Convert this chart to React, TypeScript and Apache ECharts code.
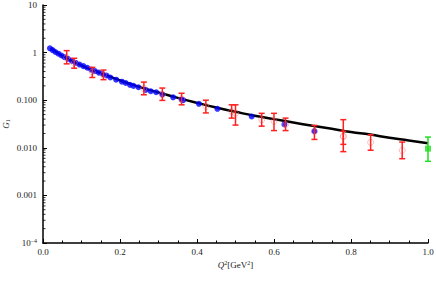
import React, { useEffect, useRef } from "react";
import * as echarts from "echarts";

const curveX = [0.02, 0.04, 0.06, 0.08, 0.1, 0.12, 0.15, 0.2, 0.25, 0.3, 0.35, 0.4, 0.45, 0.5, 0.55, 0.6, 0.65, 0.7, 0.75, 0.8, 0.85, 0.9, 0.95, 1.0];
const curveY = [1.25, 0.96, 0.77, 0.64, 0.54, 0.46, 0.37, 0.26, 0.19, 0.145, 0.112, 0.088, 0.07, 0.057, 0.047, 0.04, 0.034, 0.029, 0.025, 0.0215, 0.019, 0.0162, 0.0143, 0.0125];

const blueX = [0.018, 0.025, 0.032, 0.04, 0.048, 0.056, 0.065, 0.075, 0.085, 0.095, 0.105, 0.115, 0.125, 0.135, 0.145, 0.155, 0.165, 0.175, 0.19, 0.205, 0.215, 0.226, 0.235, 0.248, 0.267, 0.28, 0.294, 0.31, 0.338, 0.36, 0.364, 0.405, 0.453, 0.542, 0.627, 0.705];
const blueY = [1.23, 1.13, 1.03, 0.95, 0.87, 0.8, 0.74, 0.67, 0.61, 0.56, 0.52, 0.48, 0.44, 0.41, 0.38, 0.355, 0.33, 0.3, 0.27, 0.245, 0.23, 0.21, 0.2, 0.187, 0.165, 0.154, 0.147, 0.132, 0.115, 0.103, 0.1, 0.084, 0.066, 0.0455, 0.031, 0.0224];

const redX = [0.0615, 0.081, 0.128, 0.157, 0.262, 0.31, 0.36, 0.423, 0.49, 0.5, 0.568, 0.6, 0.63, 0.705, 0.78, 0.78, 0.851, 0.933];
const redY = [0.785, 0.6, 0.39, 0.34, 0.176, 0.13, 0.106, 0.074, 0.058, 0.053, 0.039, 0.036, 0.031, 0.022, 0.0173, 0.0175, 0.013, 0.0088];
const redLow = [0.58, 0.47, 0.3, 0.27, 0.13, 0.099, 0.08, 0.054, 0.042, 0.03, 0.0285, 0.023, 0.023, 0.015, 0.0083, 0.0118, 0.0089, 0.0059];
const redHigh = [1.1, 0.76, 0.49, 0.43, 0.24, 0.18, 0.14, 0.1, 0.08, 0.08, 0.053, 0.053, 0.042, 0.0295, 0.039, 0.0224, 0.0188, 0.0132];

const greenX = [1.0];
const greenY = [0.0096];
const greenLow = [0.0052];
const greenHigh = [0.0168];

const yMinorTicks = [-4, -3, -2, -1, 0].flatMap((e) => [2, 3, 4, 5, 6, 7, 8, 9].map((m) => m * Math.pow(10, e)));

const FONT = "Liberation Serif";

function errorBarRender(color: string) {
  return (params: any, api: any) => {
    const x = api.value(0);
    const lo = api.value(1);
    const hi = api.value(2);
    const p1 = api.coord([x, lo]);
    const p2 = api.coord([x, hi]);
    const w = 3;
    const style = { stroke: color, lineWidth: 1.5 };
    return {
      type: "group",
      children: [
        { type: "line", shape: { x1: p1[0], y1: p1[1], x2: p2[0], y2: p2[1] }, style },
        { type: "line", shape: { x1: p1[0] - w, y1: p1[1], x2: p1[0] + w, y2: p1[1] }, style },
        { type: "line", shape: { x1: p2[0] - w, y1: p2[1], x2: p2[0] + w, y2: p2[1] }, style },
      ],
    };
  };
}

export default function App() {
  const ref = useRef<HTMLDivElement>(null);
  useEffect(() => {
    if (!ref.current) return;
    const chart = echarts.init(ref.current, null, { renderer: "svg" });
    const yLabel = (v: number) => {
      const e = Math.round(Math.log10(v));
      if (e === 1) return "10";
      if (e === 0) return "1";
      if (e === -1) return "0.100";
      if (e === -2) return "0.010";
      if (e === -3) return "0.001";
      if (e === -4) return "10{s|−4}";
      return "";
    };
    chart.setOption({
      animation: false,
      grid: { left: 43, right: 8, top: 5, bottom: 39, containLabel: false, outerBoundsMode: "none" },
      xAxis: {
        type: "value",
        min: 0,
        max: 1,
        interval: 0.2,
        name: "{i|Q}{s|2}[GeV{s|2}]",
        nameLocation: "middle",
        nameGap: 17,
        nameMoveOverlap: false,
        nameTextStyle: {
          fontFamily: FONT,
          fontSize: 9,
          color: "#222",
          rich: {
            i: { fontFamily: FONT, fontSize: 9, fontStyle: "italic", color: "#222" },
            s: { fontFamily: FONT, fontSize: 6, verticalAlign: "bottom", color: "#222", padding: [0, 0, 4, 0] },
          },
        },
        axisLine: { lineStyle: { color: "#000", width: 1.5 } },
        axisTick: { inside: true, length: 4, lineStyle: { color: "#000", width: 1 } },
        minorTick: { show: true, splitNumber: 4, length: 2.5, lineStyle: { color: "#000", width: 1 } },
        splitLine: { show: false },
        axisLabel: {
          fontFamily: FONT,
          fontSize: 9,
          color: "#222",
          margin: 4,
          formatter: (v: number) => v.toFixed(1),
        },
      },
      yAxis: {
        type: "log",
        logBase: 10,
        min: 0.0001,
        max: 10,
        splitNumber: 5,
        name: "{i|G}{s|1}",
        nameLocation: "middle",
        nameRotate: 90,
        nameGap: 32,
        nameMoveOverlap: false,
        nameTextStyle: {
          fontFamily: FONT,
          fontSize: 9,
          color: "#222",
          rich: {
            i: { fontFamily: FONT, fontSize: 9, fontStyle: "italic", color: "#222" },
            s: { fontFamily: FONT, fontSize: 6, color: "#222", verticalAlign: "top", padding: [4, 0, 0, 0] },
          },
        },
        axisLine: { lineStyle: { color: "#000", width: 1.5 } },
        axisTick: { inside: true, length: 4, lineStyle: { color: "#000", width: 1 } },
        splitLine: { show: false },
        axisLabel: {
          fontFamily: FONT,
          fontSize: 9,
          color: "#222",
          margin: 6,
          formatter: yLabel,
          rich: {
            s: { fontFamily: FONT, fontSize: 6, color: "#222", verticalAlign: "bottom", padding: [0, 0, 4, 0] },
          },
        },
      },
      series: [
        {
          type: "custom",
          name: "minorY",
          silent: true,
          data: yMinorTicks.map((v) => [0, v]),
          renderItem: (params: any, api: any) => {
            const p = api.coord([0, api.value(1)]);
            return {
              type: "line",
              shape: { x1: p[0], y1: p[1], x2: p[0] + 2.5, y2: p[1] },
              style: { stroke: "#000", lineWidth: 0.8 },
            };
          },
          z: 1,
        },
        {
          type: "line",
          data: curveX.map((x, i) => [x, curveY[i]]),
          smooth: true,
          showSymbol: false,
          lineStyle: { color: "#000", width: 2.5 },
          z: 2,
        },
        {
          type: "scatter",
          data: blueX.map((x, i) => [x, blueY[i]]),
          symbol: "circle",
          symbolSize: 6,
          itemStyle: { color: "#0000ff" },
          z: 3,
        },
        {
          type: "scatter",
          data: redX.map((x, i) => [x, redY[i]]),
          symbol: "circle",
          symbolSize: 6,
          itemStyle: { color: "transparent", borderColor: "rgba(255,120,120,0.6)", borderWidth: 1 },
          z: 4,
        },
        {
          type: "custom",
          data: redX.map((x, i) => [x, redLow[i], redHigh[i]]),
          renderItem: errorBarRender("#ff2020"),
          encode: { x: 0, y: [1, 2] },
          z: 5,
        },
        {
          type: "custom",
          data: greenX.map((x, i) => [x, greenLow[i], greenHigh[i]]),
          renderItem: errorBarRender("#22dd22"),
          encode: { x: 0, y: [1, 2] },
          z: 5,
        },
        {
          type: "scatter",
          data: greenX.map((x, i) => [x, greenY[i]]),
          symbol: "rect",
          symbolSize: 6,
          itemStyle: { color: "#22dd22" },
          z: 6,
        },
      ],
    });
    return () => chart.dispose();
  }, []);
  return <div ref={ref} style={{ width: 436, height: 282, position: "absolute", left: 0, top: 0 }} />;
}
